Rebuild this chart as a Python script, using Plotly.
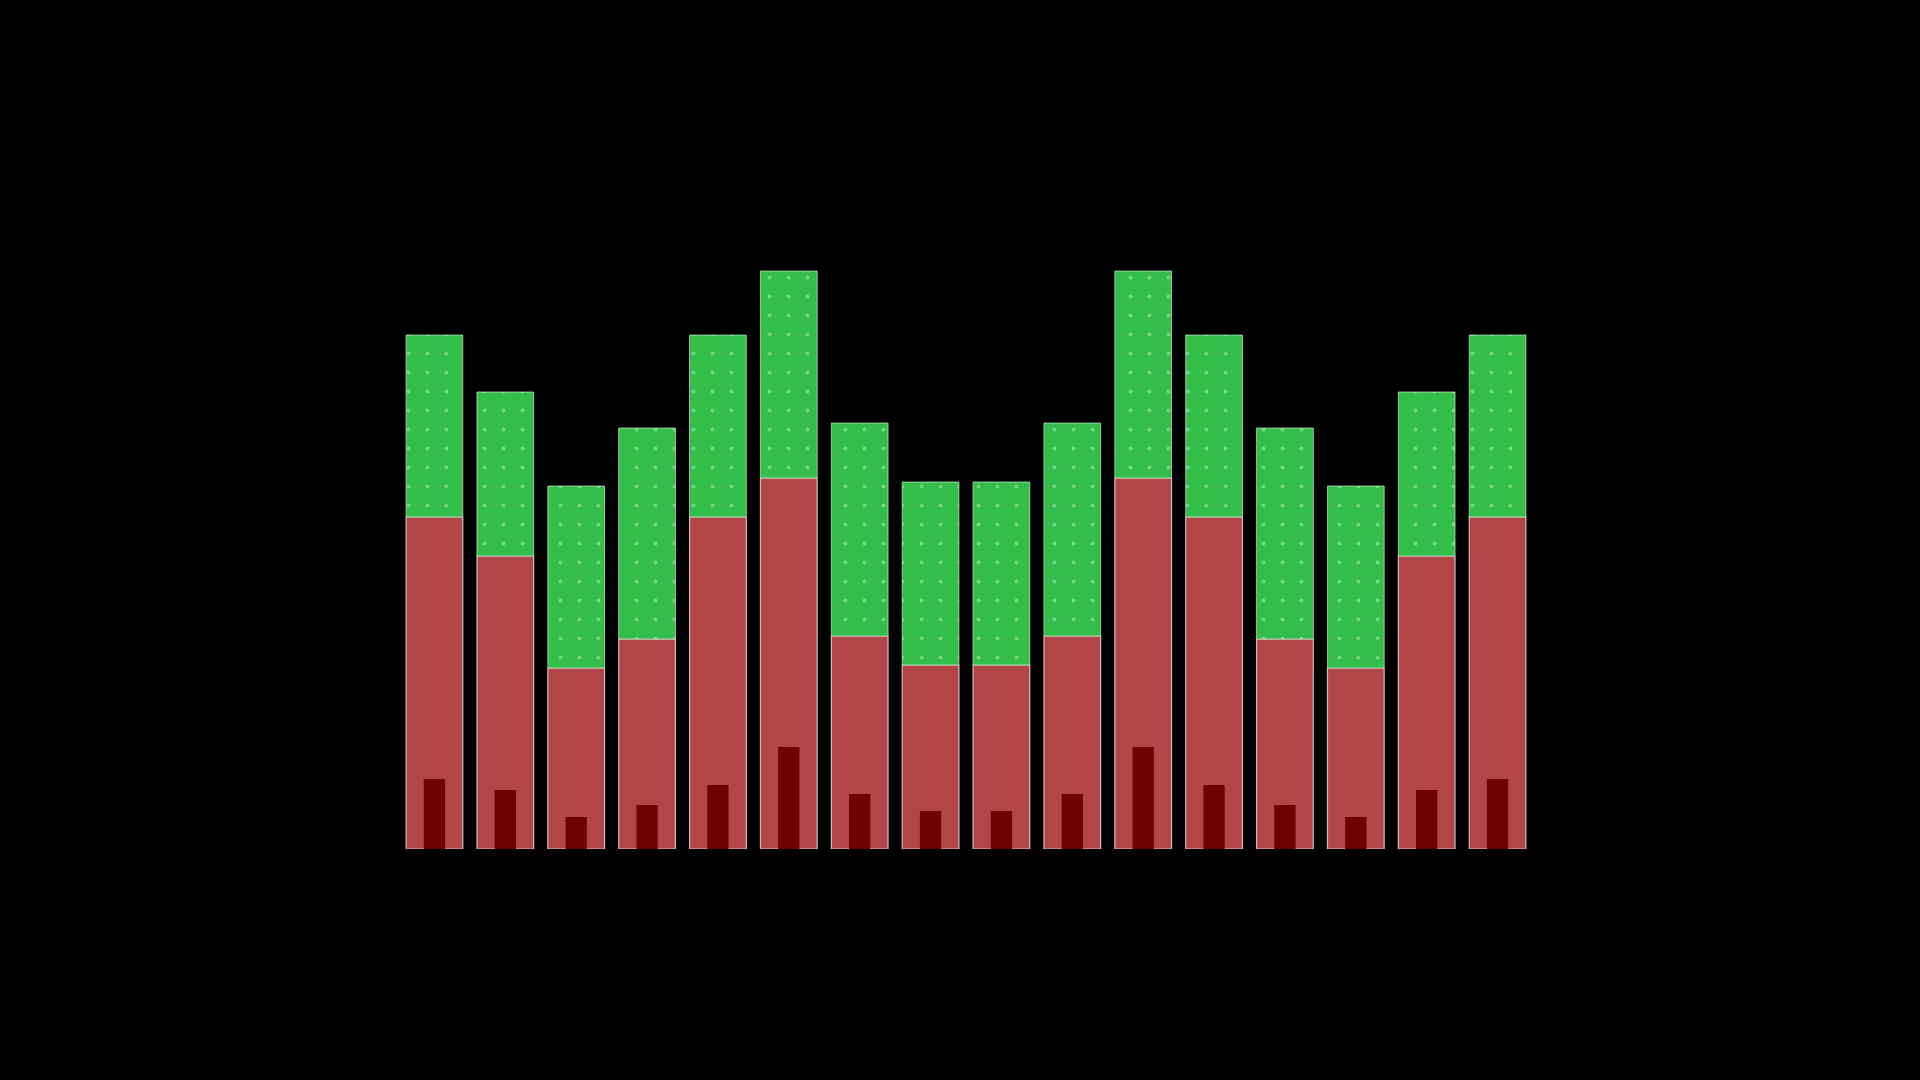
import plotly.graph_objects as go

# Dados
CATEGORIES = [f"C{i}" for i in range(1, 17)]
RED_VALUES = [33.2, 29.3, 18.1, 21.0, 33.2, 37.1, 21.3, 18.4,
              18.4, 21.3, 37.1, 33.2, 21.0, 18.1, 29.3, 33.2]
GREEN_VALUES = [18.2, 16.4, 18.2, 21.1, 18.2, 20.7, 21.3, 18.3,
                18.3, 21.3, 20.7, 18.2, 21.1, 18.2, 16.4, 18.2]
DARK_VALUES = [7.0, 5.9, 3.2, 4.4, 6.4, 10.2, 5.5, 3.8,
               3.8, 5.5, 10.2, 6.4, 4.4, 3.2, 5.9, 7.0]

RED = "#B24545"
GREEN = "#33BE4B"
DARK_RED = "#700000"
OUTLINE = "rgba(225,215,215,0.85)"

fig = go.Figure()

fig.add_trace(go.Bar(
    x=CATEGORIES, y=RED_VALUES, name="base",
    marker=dict(color=RED, line=dict(color=OUTLINE, width=1.2)),
))

# verde empilhado manualmente (base = vermelho), com textura sutil
fig.add_trace(go.Bar(
    x=CATEGORIES, y=GREEN_VALUES, base=RED_VALUES, name="topo",
    marker=dict(
        color=GREEN,
        line=dict(color="rgba(200,235,200,0.7)", width=1),
        pattern=dict(shape=".", size=19, solidity=0.035,
                     fgcolor="#e6ffe6", fgopacity=0.35),
    ),
))

fig.add_trace(go.Bar(
    x=CATEGORIES, y=DARK_VALUES, name="detalhe", width=0.3,
    marker=dict(color=DARK_RED, line=dict(width=0)),
))

fig.update_layout(
    width=1920, height=1080,
    barmode="overlay", bargap=0.2,
    showlegend=False,
    paper_bgcolor="black", plot_bgcolor="black",
    margin=dict(l=399, r=387, t=249, b=231),
)
fig.update_xaxes(visible=False)
fig.update_yaxes(visible=False, range=[0, 60])

# remove a margem branca padrão do <body> e a barra de ferramentas
fig.write_html(
    "out.html",
    config={"displayModeBar": False},
    post_script="document.body.style.margin='0';document.body.style.background='black';",
)
